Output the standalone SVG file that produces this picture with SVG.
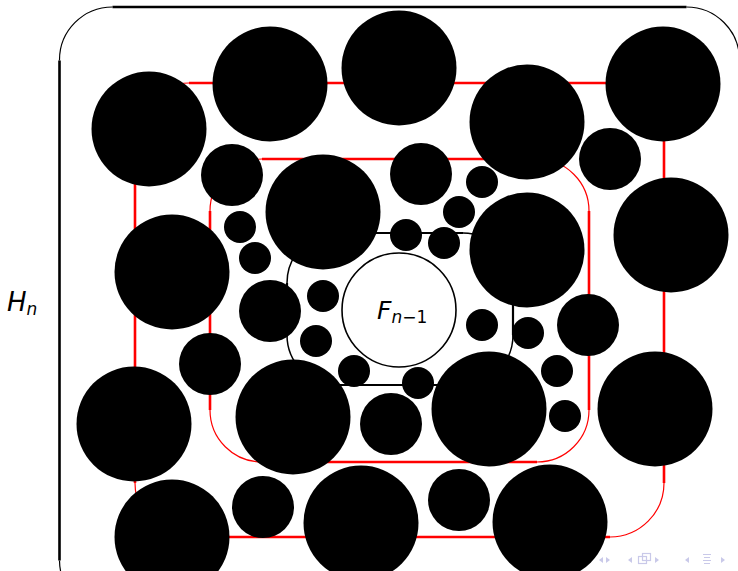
<svg xmlns="http://www.w3.org/2000/svg" width="738" height="571" viewBox="0 0 738 571">
<style>
.thk{fill:none;stroke-width:2.6;stroke-linecap:butt}
.thn{fill:none;stroke-width:1.2}
.red{stroke:#ff0000}
.blk{stroke:#000}
.big{fill:#000}
.nav{fill:#c9c9e9}
.navs{fill:none;stroke:#c9c9e9;stroke-width:1.2}
.lbl{font-family:"DejaVu Sans","Liberation Sans",sans-serif;fill:#000}
</style>
<rect width="738" height="571" fill="#fff"/>
<g id="navigation">
<polygon class="nav" points="603,557 603,563 599,560"/>
<polygon class="nav" points="606,557 606,563 610,560"/>
<polygon class="nav" points="632,557 632,563 628,560"/>
<rect class="navs" x="638.5" y="556.5" width="8" height="7"/>
<rect class="navs" x="642.5" y="553.5" width="8" height="7" fill="#fff"/>
<polygon class="nav" points="655,557 655,563 659,560"/>
<polygon class="nav" points="689,557 689,563 685,560"/>
<path class="navs" d="M703 554.5H711M704 557.5H710M703 560.5H711M704 563.5H710"/>
<polygon class="nav" points="721,557 721,563 725,560"/>
</g>
<g id="frame-Hn">
<path class="thk blk" d="M112.5 7H686.5M739.5 60.5V560.5M59.5 560.5V60.5"/>
<path class="thn blk" d="M59.5 60.5A53 53 0 0 1 112.5 7M686.5 7A53 53 0 0 1 739.5 60M59.5 560.5A53 53 0 0 0 112.5 613"/>
</g>
<g id="connectors">
<g id="red-outer">
<path class="thk red" d="M189 83H610M664 137V483M610 537H189M135 483V137"/>
<path class="thn red" d="M610 83A54 54 0 0 1 664 137M664 483A54 54 0 0 1 610 537M189 537A54 54 0 0 1 135 483M135 137A54 54 0 0 1 189 83"/>
</g>
<g id="red-inner">
<path class="thk red" d="M262 159H537M589 211V410M537 462H262M210 410V211"/>
<path class="thn red" d="M537 159A52 52 0 0 1 589 211M589 410A52 52 0 0 1 537 462M262 462A52 52 0 0 1 210 410M210 211A52 52 0 0 1 262 159"/>
</g>
<g id="black-inner">
<path class="thk blk" style="stroke-width:2.2" d="M337 233H463M513 283V335M463 385H337M287 335V283"/>
<path class="thn blk" style="stroke-width:1.5" d="M463 233A50 50 0 0 1 513 283M513 335A50 50 0 0 1 463 385M337 385A50 50 0 0 1 287 335M287 283A50 50 0 0 1 337 233"/>
</g>
</g>
<g id="Fn1">
<circle cx="399" cy="310" r="57" fill="#fff" stroke="#000" stroke-width="1.6"/>
<text class="lbl" x="377" y="319" font-size="25" font-style="italic">F<tspan font-size="17" dy="4">n</tspan><tspan font-size="17" font-style="normal">−1</tspan></text>
</g>
<g id="label-Hn">
<text class="lbl" x="7" y="311" font-size="26" font-style="italic">H<tspan font-size="17" dy="4">n</tspan></text>
</g>
<g id="big-circles" class="big">
<circle cx="149" cy="129" r="57.5"/>
<circle cx="270" cy="84" r="57.5"/>
<circle cx="399" cy="68" r="57.5"/>
<circle cx="527" cy="122" r="57.5"/>
<circle cx="663" cy="84" r="57.5"/>
<circle cx="323" cy="212" r="57.5"/>
<circle cx="527" cy="250" r="57.5"/>
<circle cx="671" cy="235" r="57.5"/>
<circle cx="172" cy="272" r="57.5"/>
<circle cx="134" cy="424" r="57.5"/>
<circle cx="293" cy="417" r="57.5"/>
<circle cx="489" cy="409" r="57.5"/>
<circle cx="655" cy="409" r="57.5"/>
<circle cx="172" cy="537" r="57.5"/>
<circle cx="361" cy="523" r="57.5"/>
<circle cx="550" cy="522" r="57.5"/>
</g>
<g id="medium-circles" class="big">
<circle cx="232" cy="175" r="31"/>
<circle cx="421" cy="174" r="31"/>
<circle cx="610" cy="159" r="31"/>
<circle cx="270" cy="311" r="31"/>
<circle cx="210" cy="364" r="31"/>
<circle cx="588" cy="325" r="31"/>
<circle cx="391" cy="424" r="31"/>
<circle cx="263" cy="507" r="31"/>
<circle cx="459" cy="500" r="31"/>
</g>
<g id="small-circles" class="big">
<circle cx="240" cy="227" r="16"/>
<circle cx="255" cy="258" r="16"/>
<circle cx="482" cy="182" r="16"/>
<circle cx="459" cy="212" r="16"/>
<circle cx="406" cy="235" r="16"/>
<circle cx="444" cy="243" r="16"/>
<circle cx="323" cy="296" r="16"/>
<circle cx="316" cy="341" r="16"/>
<circle cx="354" cy="371" r="16"/>
<circle cx="482" cy="325" r="16"/>
<circle cx="528" cy="333" r="16"/>
<circle cx="418" cy="383" r="16"/>
<circle cx="557" cy="371" r="16"/>
<circle cx="565" cy="416" r="16"/>
</g>
</svg>
